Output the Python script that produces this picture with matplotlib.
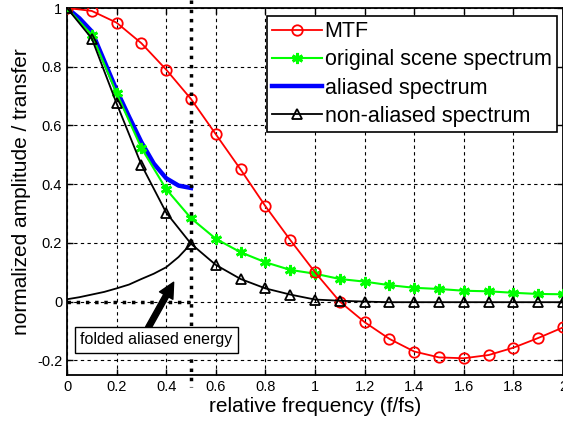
import numpy as np
import matplotlib
matplotlib.use("Agg")
import matplotlib.pyplot as plt

plt.rcParams['font.family'] = ['Liberation Sans', 'DejaVu Sans']

# sampled frequencies (f/fs)
freq = np.round(np.arange(0, 2.01, 0.1), 2)

mtf = [1.0, 0.99, 0.95, 0.88, 0.79, 0.69, 0.57, 0.45, 0.325, 0.21, 0.10,
       0.0, -0.07, -0.127, -0.17, -0.19, -0.193, -0.182, -0.157, -0.124, -0.088]
scene = [1.0, 0.908, 0.71, 0.523, 0.383, 0.284, 0.214, 0.168, 0.134, 0.108, 0.095,
         0.077, 0.068, 0.056, 0.047, 0.043, 0.037, 0.035, 0.030, 0.026, 0.025]
non_aliased = [1.0, 0.896, 0.675, 0.466, 0.303, 0.197, 0.125, 0.077, 0.045, 0.024, 0.007,
               0.003, 0.0, -0.002, -0.002, -0.002, -0.002, -0.002, -0.002, -0.002, -0.002]

# finer curves below Nyquist
freq_fine = [0, 0.05, 0.1, 0.15, 0.2, 0.25, 0.3, 0.35, 0.4, 0.45, 0.5]
aliased = [1.0, 0.965, 0.92, 0.82, 0.72, 0.63, 0.543, 0.47, 0.42, 0.395, 0.387]
folded = [0.008, 0.015, 0.024, 0.033, 0.045, 0.058, 0.077, 0.095, 0.117, 0.152, 0.197]

xticks = [0, 0.2, 0.4, 0.6, 0.8, 1, 1.2, 1.4, 1.6, 1.8, 2]
xticklabels = ['0', '0.2', '0.4', '0.6', '0.8', '1', '1.2', '1.4', '1.6', '1.8', '2']
yticks = [-0.2, 0, 0.2, 0.4, 0.6, 0.8, 1]
yticklabels = ['-0.2', '0', '0.2', '0.4', '0.6', '0.8', '1']

fig = plt.figure(figsize=(5.63, 4.24), dpi=100)
ax = fig.add_axes([67 / 563, 1 - 375 / 424, 496 / 563, 367 / 424])

ax.plot(freq, mtf, '-o', color=(1, 0, 0), lw=1.3, ms=7.5, mfc='none', mew=1.3,
        label='MTF', zorder=5)
ax.plot(freq, scene, '-', marker=(6, 2, 0), color=(0, 1, 0), lw=1.5, ms=8, mew=2,
        label='original scene spectrum', zorder=4)
ax.plot(freq_fine, aliased, '-', color=(0, 0, 1), lw=3.2, label='aliased spectrum', zorder=3)
ax.plot(freq, non_aliased, '-^', color='k', lw=1.3, ms=7, mfc='none', mew=1.3,
        label='non-aliased spectrum', zorder=6)
ax.plot(freq_fine, folded, '-', color='k', lw=1.3, zorder=6)

# Nyquist markers
ax.plot([0.5, 0.5], [1.027, -0.29], ':', color='k', lw=2.5, clip_on=False, zorder=7)
ax.plot([0, 0.5], [0, 0], ':', color='k', lw=2.5, zorder=7)

ax.annotate('', xy=(0.43, 0.066), xytext=(0.327, -0.09),
            arrowprops=dict(facecolor='k', edgecolor='k', width=4, headwidth=11,
                            headlength=11, shrink=0), zorder=8)
ax.text(0.36, -0.13, 'folded aliased energy', fontsize=11.5, ha='center', va='center',
        bbox=dict(boxstyle='square,pad=0.35', fc='white', ec='k', lw=1), zorder=9)

ax.set_xlim(0, 2)
ax.set_ylim(-0.25, 1)
ax.set_xticks(xticks)
ax.set_xticklabels(xticklabels)
ax.set_yticks(yticks)
ax.set_yticklabels(yticklabels)
ax.tick_params(direction='in', top=True, right=True, labelsize=10.5, length=4, width=1)
ax.grid(True, color='k', ls=(0, (3, 3)), lw=0.8)
for s in ax.spines.values():
    s.set_linewidth(1.3)

ax.set_xlabel('relative frequency (f/fs)', fontsize=15, labelpad=2)
ax.set_ylabel('normalized amplitude / transfer', fontsize=15, labelpad=4)

leg = ax.legend(loc='upper right', bbox_to_anchor=(557 / 563, 1 - 16 / 424),
                bbox_transform=fig.transFigure, fontsize=15.5, numpoints=1,
                handlelength=2.3, handletextpad=0.15, labelspacing=0.33,
                borderpad=0.25, borderaxespad=0, fancybox=False, framealpha=1)
leg.get_frame().set_edgecolor('k')
leg.get_frame().set_linewidth(1.2)

fig.savefig('out.png', dpi=100)
